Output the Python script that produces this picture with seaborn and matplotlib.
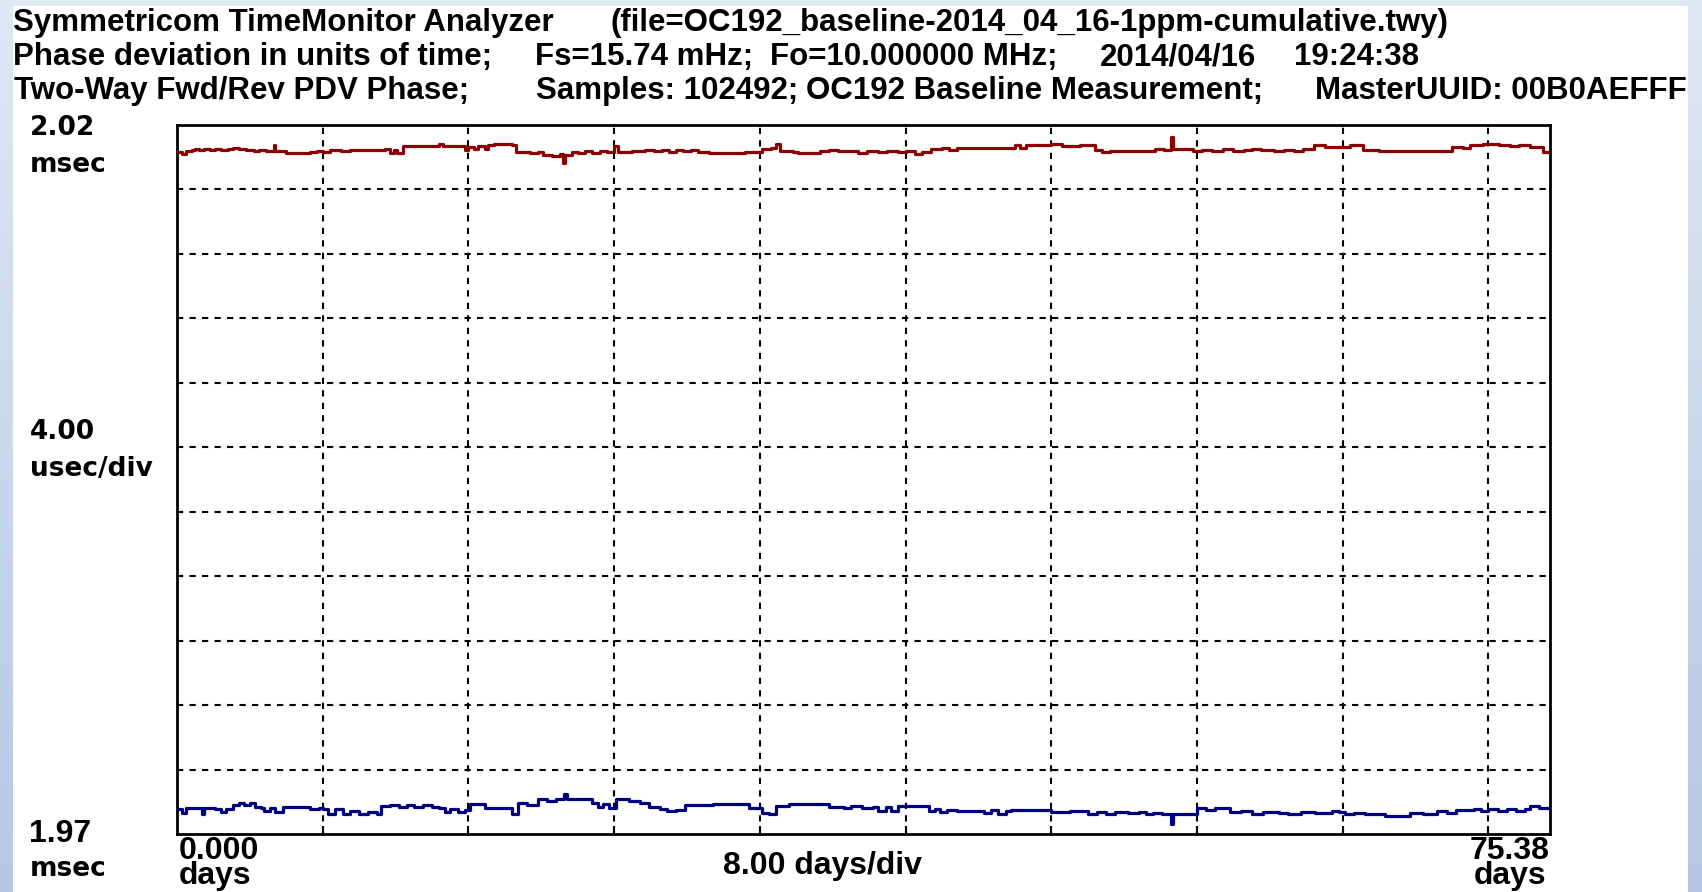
import numpy as np
import pandas as pd
import matplotlib
matplotlib.use("Agg")
import matplotlib.pyplot as plt
import seaborn as sns

# ---------------- data (days, microseconds above bottom of plot) ----------------
RED_DAYS = [0.0, 0.3, 0.5, 0.8, 1.0, 1.2, 1.5, 1.8, 2.1, 2.4, 2.8, 3.1, 3.4, 3.8, 4.2, 4.5, 4.9, 5.3, 5.4, 5.8,
            6.0, 7.3, 7.7, 8.0, 8.4, 9.0, 9.5, 10.2, 10.9, 11.4, 11.7, 11.9, 12.1, 12.4, 14.4, 14.6, 15.8, 16.0,
            16.3, 16.5, 16.9, 17.1, 17.4, 18.4, 18.6, 19.4, 19.8, 20.1, 20.6, 21.0, 21.18, 21.3, 21.7, 22.0,
            22.4, 22.8, 23.2, 23.6, 24.0, 24.2, 25.0, 25.7, 26.2, 26.6, 27.0, 27.4, 27.8, 28.2, 28.6, 29.2,
            30.4, 31.2, 32.1, 32.6, 32.9, 33.1, 33.8, 34.1, 35.3, 35.8, 36.3, 36.9, 37.4, 37.9, 38.5, 39.0,
            39.6, 40.0, 40.5, 40.9, 41.4, 42.0, 42.4, 42.8, 43.3, 45.5, 46.0, 46.3, 46.6, 48.0, 48.6, 49.6,
            50.4, 50.8, 51.2, 53.4, 53.7, 54.2, 54.58, 54.68, 55.3, 55.8, 56.3, 56.8, 57.4, 58.0, 58.6, 59.0,
            59.5, 60.2, 60.8, 61.3, 61.8, 62.4, 63.0, 64.4, 65.1, 66.0, 69.8, 70.0, 70.6, 71.0, 71.7, 72.6,
            73.2, 73.7, 74.3, 75.0, 75.38]
RED_USEC = [42.32, 42.19, 42.36, 42.46, 42.52, 42.44, 42.52, 42.46, 42.54, 42.44, 42.50, 42.58, 42.50, 42.44,
            42.40, 42.46, 42.38, 42.77, 42.40, 42.36, 42.26, 42.30, 42.36, 42.30, 42.42, 42.36, 42.44, 42.42,
            42.44, 42.50, 42.26, 42.46, 42.28, 42.71, 42.83, 42.71, 42.46, 42.62, 42.50, 42.69, 42.54, 42.75,
            42.79, 42.73, 42.30, 42.26, 42.34, 42.15, 42.10, 42.20, 41.64, 42.15, 42.34, 42.24, 42.38, 42.28,
            42.40, 42.30, 42.71, 42.30, 42.36, 42.42, 42.36, 42.46, 42.34, 42.46, 42.36, 42.44, 42.30, 42.28,
            42.24, 42.30, 42.50, 42.60, 42.83, 42.40, 42.34, 42.26, 42.36, 42.46, 42.38, 42.36, 42.26, 42.36,
            42.30, 42.40, 42.34, 42.38, 42.22, 42.30, 42.50, 42.56, 42.42, 42.56, 42.60, 42.60, 42.73, 42.60,
            42.77, 42.79, 42.70, 42.75, 42.44, 42.30, 42.36, 42.40, 42.50, 42.44, 43.24, 42.50, 42.50, 42.40,
            42.46, 42.40, 42.48, 42.40, 42.46, 42.52, 42.42, 42.40, 42.46, 42.40, 42.48, 42.73, 42.66, 42.73,
            42.44, 42.40, 42.40, 42.66, 42.60, 42.73, 42.79, 42.77, 42.69, 42.75, 42.66, 42.32, 42.32]

BLUE_DAYS = [0.0, 0.3, 0.5, 1.2, 1.35, 1.5, 2.1, 2.4, 2.7, 3.1, 3.4, 3.7, 4.0, 4.3, 4.6, 4.8, 5.1, 5.4, 5.8,
             6.0, 7.3, 7.8, 8.0, 8.3, 8.7, 9.1, 9.5, 10.0, 10.5, 11.0, 11.2, 11.7, 12.2, 12.6, 13.0, 13.5,
             14.0, 14.4, 14.7, 15.0, 15.4, 15.8, 16.1, 16.9, 18.3, 18.4, 18.7, 19.2, 19.8, 20.3, 20.8, 21.25,
             21.4, 22.0, 22.8, 23.1, 23.4, 23.7, 24.1, 24.8, 25.4, 25.9, 26.5, 26.9, 27.4, 27.9, 28.9, 29.4,
             30.4, 31.4, 32.1, 32.5, 32.9, 33.6, 35.2, 35.8, 36.6, 37.0, 37.6, 38.2, 38.5, 38.9, 39.2, 39.6,
             40.6, 41.3, 41.6, 41.9, 42.3, 42.8, 44.3, 44.7, 45.1, 45.5, 45.8, 48.0, 49.0, 50.0, 50.5, 51.0,
             51.5, 52.2, 52.8, 53.2, 53.6, 54.1, 54.58, 54.68, 55.5, 56.0, 56.5, 57.0, 57.8, 58.4, 59.0, 59.6,
             60.5, 61.0, 61.7, 62.5, 63.4, 63.8, 64.1, 64.6, 65.2, 66.3, 67.7, 68.4, 69.2, 69.7, 70.2, 71.2,
             71.6, 72.0, 72.5, 73.0, 73.5, 74.0, 74.3, 74.8, 75.38]
BLUE_USEC = [1.54, 1.33, 1.64, 1.60, 1.23, 1.64, 1.54, 1.36, 1.56, 1.81, 1.95, 1.80, 1.92, 1.70, 1.64, 1.40,
             1.62, 1.38, 1.66, 1.68, 1.58, 1.62, 1.54, 1.26, 1.56, 1.24, 1.40, 1.22, 1.38, 1.26, 1.74, 1.80,
             1.66, 1.80, 1.70, 1.78, 1.66, 1.60, 1.36, 1.56, 1.36, 1.50, 1.85, 1.64, 1.62, 1.23, 1.95, 1.82,
             2.15, 2.02, 2.18, 2.46, 2.15, 2.15, 1.95, 1.70, 1.88, 1.64, 2.19, 2.05, 1.95, 1.70, 1.54, 1.42,
             1.50, 1.78, 1.78, 1.86, 1.84, 1.64, 1.33, 1.23, 1.74, 1.85, 1.85, 1.70, 1.64, 1.74, 1.62, 1.66,
             1.42, 1.66, 1.44, 1.74, 1.74, 1.44, 1.58, 1.34, 1.50, 1.44, 1.33, 1.48, 1.22, 1.40, 1.50, 1.37,
             1.40, 1.23, 1.36, 1.24, 1.38, 1.28, 1.36, 1.22, 1.32, 1.26, 0.62, 1.23, 1.23, 1.64, 1.50, 1.62,
             1.37, 1.42, 1.23, 1.36, 1.33, 1.24, 1.37, 1.28, 1.44, 1.36, 1.23, 1.32, 1.23, 1.13, 1.33, 1.26,
             1.44, 1.30, 1.50, 1.58, 1.40, 1.56, 1.42, 1.58, 1.40, 1.54, 1.74, 1.62, 1.74]

X_MAX_DAYS = 75.38
DAYS_PER_DIV = 8.0
Y_DIVS = 11
USEC_PER_DIV = 4.0

TITLE_1 = ["Symmetricom TimeMonitor Analyzer", "(file=OC192_baseline-2014_04_16-1ppm-cumulative.twy)"]
TITLE_2 = ["Phase deviation in units of time;", "Fs=15.74 mHz;", "Fo=10.000000 MHz;", "2014/04/16", "19:24:38"]
TITLE_3 = ["Two-Way Fwd/Rev PDV Phase;", "Samples: 102492;", "OC192 Baseline Measurement;",
           "MasterUUID: 00B0AEFFFE"]

# ---------------- figure ----------------
sns.set_theme(style="white")
W, H = 1702, 892
fig = plt.figure(figsize=(W / 100, H / 100), dpi=100, facecolor="white")

def fx(px):
    return px / W

def fy(py):
    return 1 - py / H

left, right, top, bottom = 177, 1550, 125, 834
ax = fig.add_axes([fx(left), fy(bottom), fx(right - left), (bottom - top) / H])
ax.set_facecolor("white")

red = pd.DataFrame({"days": RED_DAYS, "usec": RED_USEC})
blue = pd.DataFrame({"days": BLUE_DAYS, "usec": BLUE_USEC})
sns.lineplot(data=red, x="days", y="usec", ax=ax, color="#8b0000", lw=2.3,
             estimator=None, sort=False, drawstyle="steps-post", zorder=3)
sns.lineplot(data=blue, x="days", y="usec", ax=ax, color="#00007f", lw=2.3,
             estimator=None, sort=False, drawstyle="steps-post", zorder=3)

ax.set_xlim(0, X_MAX_DAYS)
ax.set_ylim(0, Y_DIVS * USEC_PER_DIV)
ax.set_xticks(np.arange(DAYS_PER_DIV, X_MAX_DAYS, DAYS_PER_DIV))
ax.set_yticks(np.arange(USEC_PER_DIV, Y_DIVS * USEC_PER_DIV, USEC_PER_DIV))
ax.set_xticklabels([])
ax.set_yticklabels([])
ax.set_xlabel("")
ax.set_ylabel("")
ax.grid(True, color="black", linestyle=(0, (3, 3)), linewidth=1.5)
ax.tick_params(axis="x", which="both", bottom=True, direction="in", length=6, width=1.5, color="black")
ax.tick_params(axis="y", which="both", left=False, length=0)
for s in ax.spines.values():
    s.set_color("black")
    s.set_linewidth(2.0)
    s.set_visible(True)

# ---------------- texts ----------------
tfont = dict(family=["Liberation Sans", "DejaVu Sans"], fontsize=22.5, fontweight="bold",
             color="black", va="center", ha="left")
for txt, x0 in zip(TITLE_1, [13, 610]):
    fig.text(fx(x0), fy(23), txt, **tfont)
for txt, x0 in zip(TITLE_2, [13, 535, 770, 1100, 1294]):
    fig.text(fx(x0), fy(57), txt, **tfont)
for txt, x0 in zip(TITLE_3, [14, 536, 806, 1315]):
    fig.text(fx(x0), fy(91), txt, **tfont)

bfont = dict(tfont, fontsize=23)
lfont = dict(family=["DejaVu Sans"], fontsize=19, fontweight="bold", color="black", va="center", ha="left")
fig.text(fx(30), fy(128), "2.02", **lfont)
fig.text(fx(30), fy(165), "msec", **lfont)
fig.text(fx(30), fy(432), "4.00", **lfont)
fig.text(fx(30), fy(469), "usec/div", **lfont)
fig.text(fx(29), fy(834), "1.97", **bfont)
fig.text(fx(30), fy(869), "msec", **lfont)

sfont = dict(bfont, va="baseline", linespacing=0.8)
fig.text(fx(179), fy(884), "0.000\ndays", **dict(sfont, multialignment="left"))
fig.text(fx(1550), fy(884), "75.38\ndays", **dict(sfont, ha="right", multialignment="center"))
fig.text(fx(822), fy(866), "8.00 days/div", **dict(bfont, ha="center"))

# ---------------- slide-background strips ----------------
grad = np.linspace(0, 1, 256).reshape(-1, 1)
cmap = matplotlib.colors.LinearSegmentedColormap.from_list("bg", ["#dfe8f4", "#b4c8e3"])
for x0, x1 in [(0, 13), (1688, 1702)]:
    sax = fig.add_axes([fx(x0), 0, fx(x1 - x0), 1], zorder=10)
    sax.imshow(grad, aspect="auto", cmap=cmap, extent=[0, 1, 0, 1], origin="upper")
    sax.set_axis_off()
tax = fig.add_axes([fx(13), fy(6), fx(1688 - 13), 6 / H], zorder=10)
tax.set_facecolor("#dfe8f4")
tax.set_xticks([]); tax.set_yticks([])
for s in tax.spines.values():
    s.set_visible(False)

fig.savefig("out.png", dpi=100, facecolor="white")
